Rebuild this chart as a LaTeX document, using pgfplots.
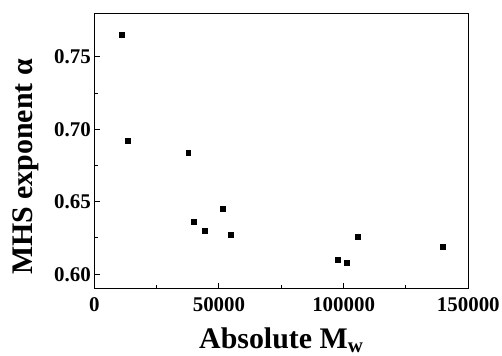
\documentclass[border=0pt]{standalone}
\usepackage{fontspec}
\setmainfont{Liberation Serif}
\usepackage{pgfplots}
\pgfplotsset{compat=1.18}

\begin{document}
\begin{tikzpicture}
\begin{axis}[
  scale only axis,
  width=374bp, height=275.4bp,
  xmin=0, xmax=150000,
  ymin=0.59, ymax=0.78,
  xtick={0,50000,100000,150000},
  xticklabels={0,50000,100000,150000},
  ytick={0.60,0.65,0.70,0.75},
  yticklabels={0.60,0.65,0.70,0.75},
  minor x tick num=1,
  minor y tick num=1,
  tick align=inside,
  xtick pos=bottom, ytick pos=left,
  major tick length=6bp,
  minor tick length=3.5bp,
  axis line style={line width=1.2bp},
  every tick/.style={line width=1bp, black},
  scaled x ticks=false,
  xticklabel style={font=\fontsize{21}{23}\selectfont\bfseries},
  yticklabel style={font=\fontsize{21}{23}\selectfont\bfseries},
  xticklabel shift=5bp,
  xlabel={Absolute M\textsubscript{w}},
  ylabel={MHS exponent α},
  xlabel style={font=\fontsize{30}{32}\selectfont\bfseries, yshift=-10bp},
  ylabel style={font=\fontsize{30}{32}\selectfont\bfseries, yshift=8bp, xshift=-16bp},
]
\addplot[only marks, mark=square*, mark size=2.4bp, black] coordinates {
  (11110,0.765)
  (13520,0.692)
  (37700,0.684)
  (40000,0.636)
  (44120,0.630)
  (51340,0.645)
  (54710,0.627)
  (97630,0.610)
  (101080,0.608)
  (105490,0.626)
  (139750,0.619)
};
\end{axis}
\pgfresetboundingbox
\path[use as bounding box] (current axis.south west) ++(-94.3bp,-67.3bp) rectangle ++(502bp,356bp);
\end{tikzpicture}
\end{document}
